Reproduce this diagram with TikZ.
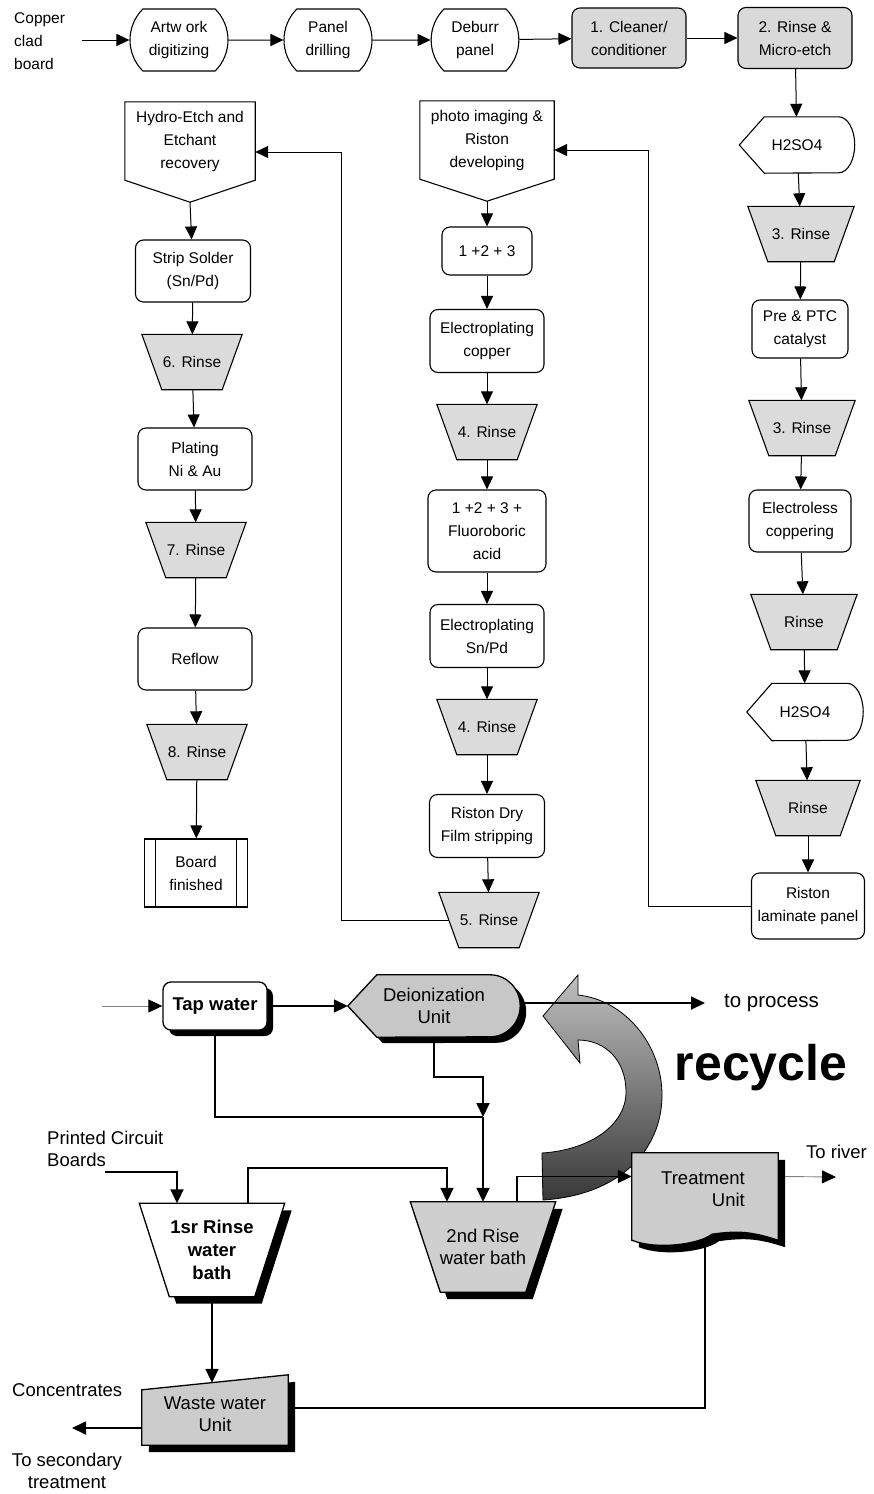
\documentclass[tikz,border=0pt]{standalone}
\usepackage{fontspec}
\setmainfont{Liberation Sans}
\usetikzlibrary{arrows.meta,shapes.misc,shadows}
\pgfdeclarelayer{back}
\pgfsetlayers{back,main}
\begin{document}
\begin{tikzpicture}[x=1pt,y=1pt]
\tikzstyle{every node}+=[inner sep=0pt]
\tikzstyle{ptext}=[font=\fontsize{15.5}{23}\selectfont, align=center]
\tikzstyle{wtext}=[font=\fontsize{18.5}{22}\selectfont, align=center]
\tikzstyle{wbold}=[font=\fontsize{18.5}{23}\selectfont\bfseries, align=center]
\tikzstyle{box}=[ptext, draw, line width=1.1pt, rounded corners=8pt]
\tikzstyle{gbox}=[box, fill=gray!30]
\tikzstyle{term}=[ptext, draw, line width=1.1pt, rounded rectangle, rounded rectangle arc length=90, minimum height=62pt]
\tikzstyle{rinse}=[ptext, minimum width=100pt, minimum height=55pt]
\tikzstyle{bath}=[minimum width=145pt, minimum height=93pt]
\tikzstyle{arr}=[-{Triangle[length=13pt,width=12pt]}, line width=1pt]
\tikzstyle{barr}=[-{Triangle[length=14pt,width=13pt]}, line width=1.8pt]
\tikzstyle{bline}=[line width=1.8pt]
\tikzstyle{garr}=[-{Triangle[length=14pt,width=13pt,color=black]}, draw=gray, line width=0.9pt]
\useasboundingbox (0,0) rectangle (874,-1494);

\node[ptext, anchor=west, align=left] (cpr) at (14,-41) {Copper\\clad\\board};
\coordinate (cin) at (82,-40);
\node[term, minimum width=98pt] (art) at (179,-40) {Artw ork\\digitizing};
\node[term, minimum width=88pt] (drill) at (328,-40) {Panel\\drilling};
\node[term, minimum width=86pt] (deburr) at (475,-40) {Deburr\\panel};
\node[gbox, minimum width=114pt, minimum height=60pt] (clean) at (629,-38) {1. Cleaner/\\conditioner};
\node[gbox, minimum width=114pt, minimum height=61pt] (micro) at (795,-38) {2. Rinse \&\\Micro-etch};

\node[ptext, minimum width=115pt, minimum height=56pt] (acid1) at (797,-145) {H2SO4};
\node[rinse, minimum width=106pt] (r3a) at (801,-234) {3. Rinse};
\node[box, minimum width=96pt, minimum height=58pt] (cat) at (800,-329) {Pre \& PTC\\catalyst};
\node[rinse, minimum width=106pt] (r3b) at (802,-428) {3. Rinse};
\node[box, minimum width=102pt, minimum height=62pt] (eless) at (800,-521) {Electroless\\coppering};
\node[rinse, minimum width=106pt] (rin1) at (804,-622) {Rinse};
\node[ptext, minimum width=116pt, minimum height=57pt] (acid2) at (805,-712) {H2SO4};
\node[rinse, minimum width=104pt] (rin2) at (808,-808) {Rinse};
\node[box, minimum width=113pt, minimum height=66pt] (lam) at (808,-906) {Riston\\laminate panel};

\node[ptext, minimum width=134pt, minimum height=78pt] (photo) at (487,-140) {photo imaging \&\\Riston\\developing};
\node[box, minimum width=90pt, minimum height=48pt] (sum1) at (487,-251) {1 +2 + 3};
\node[box, minimum width=114pt, minimum height=63pt] (elcu) at (487,-341) {Electroplating\\copper};
\node[rinse] (r4a) at (487,-432) {4. Rinse};
\node[box, minimum width=118pt, minimum height=82pt] (fluo) at (487,-531) {1 +2 + 3 +\\Fluoroboric\\acid};
\node[box, minimum width=114pt, minimum height=63pt] (elsn) at (487,-636) {Electroplating\\Sn/Pd};
\node[rinse] (r4b) at (487,-727) {4. Rinse};
\node[box, minimum width=115pt, minimum height=63pt] (dry) at (487,-826) {Riston Dry\\Film stripping};
\node[rinse] (r5) at (489,-920) {5. Rinse};

\node[ptext, minimum width=130pt, minimum height=78pt] (etch) at (190,-141) {Hydro-Etch and\\Etchant\\recovery};
\node[box, minimum width=115pt, minimum height=62pt] (strip) at (193,-271) {Strip Solder\\(Sn/Pd)};
\node[rinse] (r6) at (192,-362) {6. Rinse};
\node[box, minimum width=114pt, minimum height=62pt] (plate) at (195,-459) {Plating\\Ni \& Au};
\node[rinse] (r7) at (196,-550) {7. Rinse};
\node[box, minimum width=114pt, minimum height=62pt] (reflow) at (195,-659) {Reflow};
\node[rinse] (r8) at (197,-752) {8. Rinse};
\node[ptext, draw, line width=1.1pt, minimum width=103pt, minimum height=68pt] (board) at (196,-873) {Board\\finished};
\draw[line width=1pt] ([xshift=12]board.north west) -- ([xshift=12]board.south west) ([xshift=-12]board.north east) -- ([xshift=-12]board.south east);

\begin{pgfonlayer}{back}
\draw[line width=1.1pt] (etch.south west) -- (etch.north west) -- (etch.north east) -- (etch.south east) -- ([yshift=-22]etch.south) -- cycle;
\draw[line width=1.1pt] (photo.south west) -- (photo.north west) -- (photo.north east) -- (photo.south east) -- ([yshift=-22]photo.south) -- cycle;
\draw[line width=1.1pt] (acid1.west) -- ([xshift=25]acid1.north west) -- ([xshift=-16]acid1.north east) arc[start angle=90, end angle=-90, x radius=16, y radius=28] -- ([xshift=25]acid1.south west) -- cycle;
\draw[line width=1.1pt] (acid2.west) -- ([xshift=25]acid2.north west) -- ([xshift=-16]acid2.north east) arc[start angle=90, end angle=-90, x radius=16, y radius=28.5] -- ([xshift=25]acid2.south west) -- cycle;
\foreach \n in {r3a,r3b,rin1,rin2,r4a,r4b,r5,r6,r7,r8}
  \draw[line width=1.1pt, fill=gray!28] (\n.north west) -- (\n.north east) -- ([xshift=-20]\n.south east) -- ([xshift=20]\n.south west) -- cycle;
\end{pgfonlayer}

\draw[arr] (cin) -- (art);
\draw[arr] (art) -- (drill);
\draw[arr] (drill) -- (deburr);
\draw[arr] (deburr) -- (clean);
\draw[arr] (clean) -- (micro);
\draw[arr] (micro) -- (acid1);
\draw[arr] (acid1) -- (r3a);
\draw[arr] (r3a) -- (cat);
\draw[arr] (cat) -- (r3b);
\draw[arr] (r3b) -- (eless);
\draw[arr] (eless) -- (rin1);
\draw[arr] (rin1) -- (acid2);
\draw[arr] (acid2) -- (rin2);
\draw[arr] (rin2) -- (lam);
\draw[arr] (lam.west) -- ++(-102,0) |- ([yshift=-10]photo.east);
\draw[arr] ([yshift=-22]photo.south) -- (sum1);
\draw[arr] (sum1) -- (elcu);
\draw[arr] (elcu) -- (r4a);
\draw[arr] (r4a) -- (fluo);
\draw[arr] (fluo) -- (elsn);
\draw[arr] (elsn) -- (r4b);
\draw[arr] (r4b) -- (dry);
\draw[arr] (dry) -- (r5);
\draw[arr] ([xshift=10]r5.west) -- ++(-107,0) |- ([yshift=-11]etch.east);
\draw[arr] ([yshift=-22]etch.south) -- (strip);
\draw[arr] (strip) -- (r6);
\draw[arr] (r6) -- (plate);
\draw[arr] (plate) -- (r7);
\draw[arr] (r7) -- (reflow);
\draw[arr] (reflow) -- (r8);
\draw[arr] (r8) -- (board);

\node[wbold, draw, fill=white, line width=1.3pt, rounded corners=8pt, minimum width=104pt, minimum height=48pt, drop shadow={shadow xshift=6pt, shadow yshift=-6pt, opacity=1, fill=black}] (tap) at (215,-1006) {Tap water};
\node[wtext, minimum width=172pt, minimum height=62pt] (deion) at (434,-1006) {Deionization\\Unit};
\node[bath, wbold] (bath1) at (212,-1250) {1sr Rinse\\water\\bath};
\node[bath, wtext, minimum height=90pt] (bath2) at (483,-1247) {2nd Rise\\water bath};
\node[wtext, minimum width=146pt, minimum height=62pt] (waste) at (215,-1414) {Waste water\\Unit};
\node[minimum width=146pt, minimum height=87pt] (treat) at (705,-1196.5) {};
\node[wtext, align=right] (treatlbl) at (703,-1189) {Treatment\\Unit};
\node[font=\fontsize{20.5}{24}\selectfont, anchor=west] (proclbl) at (724,-1003) {to process};
\node[font=\fontsize{50}{56}\selectfont\bfseries] (rec) at (761,-1068) {recycle};
\node[wtext, anchor=west] (riverlbl) at (806,-1152) {To river};
\node[wtext, anchor=west, align=left] (pcblbl) at (47,-1149) {Printed Circuit\\Boards};
\node[wtext, anchor=west] (conc) at (12,-1390) {Concentrates};
\node[wtext] (seclbl) at (67,-1471) {To secondary\\treatment};

\begin{pgfonlayer}{back}
\path[draw, line width=0.8pt, top color=gray!50, middle color=gray!62, bottom color=black!78] (543,-1016) -- (578,-975) -- (578,-995) .. controls (625,-1000) and (662,-1045) .. (662,-1095) .. controls (662,-1150) and (620,-1195) .. (543,-1200) -- (542,-1153) .. controls (590,-1150) and (626,-1125) .. (626,-1092) .. controls (626,-1060) and (605,-1040) .. (578,-1040) -- (580,-1063) -- cycle;
\fill[black, transform canvas={shift={(6,-6)}}] (deion.west) -- ([xshift=29]deion.north west) -- ([xshift=-30]deion.north east) arc[start angle=90, end angle=-90, x radius=30, y radius=31] -- ([xshift=29]deion.south west) -- cycle;
\draw[line width=1.3pt, fill=gray!44] (deion.west) -- ([xshift=29]deion.north west) -- ([xshift=-30]deion.north east) arc[start angle=90, end angle=-90, x radius=30, y radius=31] -- ([xshift=29]deion.south west) -- cycle;
\fill[black, transform canvas={shift={(7,-7)}}] (bath1.north west) -- (bath1.north east) -- ([xshift=-30]bath1.south east) -- ([xshift=30]bath1.south west) -- cycle;
\draw[line width=1.3pt, fill=white] (bath1.north west) -- (bath1.north east) -- ([xshift=-30]bath1.south east) -- ([xshift=30]bath1.south west) -- cycle;
\fill[black, transform canvas={shift={(7,-7)}}] (bath2.north west) -- (bath2.north east) -- ([xshift=-30]bath2.south east) -- ([xshift=30]bath2.south west) -- cycle;
\draw[line width=1.3pt, fill=gray!38] (bath2.north west) -- (bath2.north east) -- ([xshift=-30]bath2.south east) -- ([xshift=30]bath2.south west) -- cycle;
\fill[black, transform canvas={shift={(7,-7)}}] (waste.south west) -- ([yshift=-7]waste.north west) -- ([yshift=8]waste.north east) -- (waste.south east) -- cycle;
\draw[line width=1.3pt, fill=gray!40] (waste.south west) -- ([yshift=-7]waste.north west) -- ([yshift=8]waste.north east) -- (waste.south east) -- cycle;
\fill[black, transform canvas={shift={(7,-7)}}] (treat.south west) -- (treat.north west) -- (treat.north east) -- (treat.south east) .. controls +(-25,8) and +(28,4) .. ([xshift=80,yshift=6]treat.south west) .. controls +(-12,-10) and +(25,-10) .. (treat.south west) -- cycle;
\draw[line width=1.3pt, fill=gray!40] (treat.south west) -- (treat.north west) -- (treat.north east) -- (treat.south east) .. controls +(-25,8) and +(28,4) .. ([xshift=80,yshift=6]treat.south west) .. controls +(-12,-10) and +(25,-10) .. (treat.south west) -- cycle;
\end{pgfonlayer}

\coordinate (tin) at (102,-1006);
\coordinate (proc) at (705,-1003);
\coordinate (j1) at (483,-1117);
\coordinate (pcb) at (105,-1172);
\coordinate (sec) at (72,-1428);
\coordinate (river) at (836,-1177);
\draw[garr] (tin) -- (tap);
\draw[barr] (tap) -- (deion);
\draw[barr] (deion.east |- proc) -- (proc);
\draw[barr] (deion.south) -- ++(0,-40) -| (j1);
\draw[bline] (tap.south) |- (j1);
\draw[barr] (j1) -- (j1 |- bath2.north);
\draw[barr] (pcb) -| ([xshift=-35]bath1.north);
\draw[barr] ([xshift=36]bath1.north) -- ++(0,35) -| ([xshift=-36]bath2.north);
\draw[barr] ([xshift=34]bath2.north) |- ([yshift=20]treat.west);
\draw[barr] (bath1.south) -- (bath1.south |- waste.north);
\draw[barr] (waste.west |- sec) -- (sec);
\draw[bline] ([yshift=6]waste.east) -| (treat.south);
\draw[garr] ([shift={(7,20)}]treat.east) -- (river);
\end{tikzpicture}
\end{document}
